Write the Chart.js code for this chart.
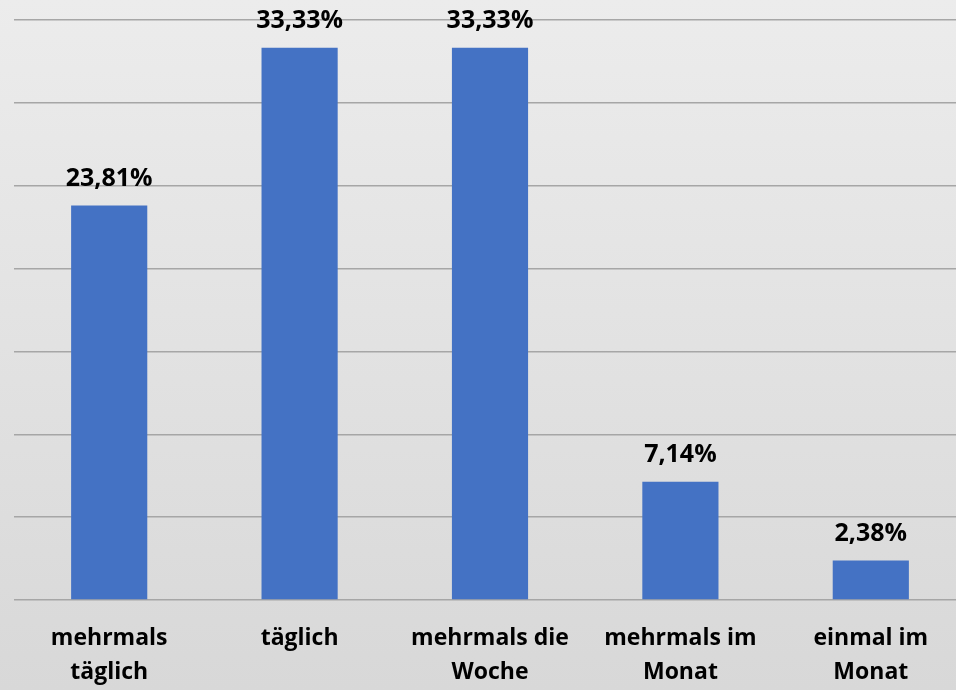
<!DOCTYPE html>
<html>
<head>
<meta charset="utf-8">
<script src="https://cdn.jsdelivr.net/npm/chart.js@4.4.0/dist/chart.umd.min.js"></script>
<style>
  html, body { margin: 0; padding: 0; overflow: hidden; width: 956px; height: 690px; }
  body { background: linear-gradient(to bottom, #ececec 0%, #d8d8d8 100%); }
  #wrap { position: absolute; left: 0; top: 0; width: 980px; height: 690px; }
</style>
</head>
<body>
<div id="wrap"><canvas id="c"></canvas></div>
<script>
const categories = [
  ["mehrmals", "täglich"],
  "täglich",
  ["mehrmals die", "Woche"],
  ["mehrmals im", "Monat"],
  ["einmal im", "Monat"]
];
const values = [23.81, 33.33, 33.33, 7.14, 2.38];
const valueLabels = ["23,81%", "33,33%", "33,33%", "7,14%", "2,38%"];
const yMax = 35;
const yStep = 5;

const FONT = "'Open Sans', 'Liberation Sans', sans-serif";

const labelPlugin = {
  id: 'valueLabels',
  afterDatasetsDraw(chart) {
    const ctx = chart.ctx;
    const meta = chart.getDatasetMeta(0);
    ctx.save();
    ctx.font = "bold 25px " + FONT;
    ctx.fillStyle = "#000";
    ctx.textAlign = "center";
    ctx.textBaseline = "middle";
    meta.data.forEach((bar, i) => {
      ctx.fillText(valueLabels[i], bar.x, bar.y - 27);
    });
    ctx.restore();
  }
};

new Chart(document.getElementById('c'), {
  type: 'bar',
  data: {
    labels: categories,
    datasets: [{
      data: values,
      backgroundColor: '#4472C4',
      borderWidth: 0,
      barPercentage: 0.4,
      categoryPercentage: 1.0
    }]
  },
  options: {
    responsive: true,
    maintainAspectRatio: false,
    animation: false,
    devicePixelRatio: 1,
    layout: { padding: { left: 14, right: 14, top: 20, bottom: 0 } },
    plugins: { legend: { display: false }, tooltip: { enabled: false } },
    scales: {
      x: {
        grid: { display: false, drawTicks: false },
        border: { display: false },
        ticks: {
          color: '#000',
          padding: 22,
          maxRotation: 0,
          autoSkip: false,
          font: { family: FONT, size: 23, weight: 'bold', lineHeight: 1.45 }
        },
        afterFit(s) { s.height = 90; }
      },
      y: {
        min: 0,
        max: yMax,
        ticks: { display: false, stepSize: yStep },
        grid: { color: '#a6a6a6', lineWidth: 1.5, drawTicks: false },
        border: { display: false },
        afterFit(s) { s.width = 0; }
      }
    }
  },
  plugins: [labelPlugin]
});
</script>
</body>
</html>
